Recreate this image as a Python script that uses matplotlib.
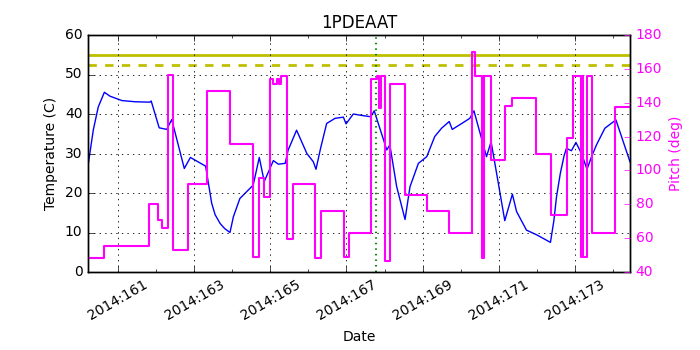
import matplotlib
matplotlib.use("Agg")
import matplotlib.pyplot as plt
from matplotlib.ticker import MultipleLocator, FixedLocator, FuncFormatter

# Day-of-year 2014 (fractional) and temperature (C)
temp_day = [160.22, 160.35, 160.48, 160.64, 160.79, 161.10, 161.45, 161.84, 161.87,
            162.08, 162.28, 162.41, 162.74, 162.90, 163.30, 163.46, 163.55, 163.68,
            163.80, 163.94, 164.03, 164.20, 164.55, 164.71, 164.84, 165.08, 165.21,
            165.39, 165.47, 165.69, 165.96, 166.13, 166.20, 166.32, 166.48, 166.70,
            166.92, 166.99, 167.18, 167.36, 167.64, 167.73, 168.06, 168.14, 168.32,
            168.54, 168.67, 168.89, 169.11, 169.32, 169.50, 169.70, 169.78, 170.03,
            170.24, 170.35, 170.68, 170.80, 170.90, 171.16, 171.36, 171.47, 171.73,
            172.00, 172.36, 172.45, 172.52, 172.62, 172.72, 172.78, 172.91, 173.03,
            173.18, 173.32, 173.44, 173.57, 173.79, 174.08, 174.45]
temp_val = [27.5, 36.0, 41.8, 45.5, 44.5, 43.4, 43.1, 43.0, 43.3,
            36.5, 36.1, 38.6, 26.2, 29.0, 26.8, 17.4, 14.5, 12.3,
            11.0, 10.0, 14.0, 18.6, 22.0, 29.0, 22.9, 28.2, 27.3,
            27.5, 30.9, 35.9, 30.0, 27.9, 26.0, 31.3, 37.6, 38.9,
            39.2, 37.5, 40.0, 39.7, 39.3, 40.8, 30.9, 32.2, 21.6,
            13.3, 21.6, 27.5, 29.2, 34.3, 36.4, 38.1, 36.1, 37.6,
            38.9, 40.8, 29.2, 33.0, 27.5, 13.0, 19.7, 15.3, 10.6,
            9.4, 7.5, 13.0, 19.1, 25.0, 29.5, 31.3, 30.7, 32.8,
            29.9, 26.0, 29.2, 32.2, 36.4, 38.5, 27.9]

# Pitch (deg) step changes: value holds from this day until the next
pitch_day = [160.22, 160.64, 161.81, 162.06, 162.16, 162.31, 162.44, 162.83, 163.33,
             163.94, 164.54, 164.71, 164.83, 164.99, 165.08, 165.17, 165.23, 165.28,
             165.43, 165.60, 166.17, 166.32, 166.93, 167.07, 167.64, 167.79, 167.86,
             167.90, 168.01, 168.14, 168.54, 169.11, 169.70, 170.29, 170.39, 170.55,
             170.62, 170.80, 171.16, 171.36, 171.97, 172.37, 172.80, 172.94, 173.15,
             173.19, 173.21, 173.32, 173.44, 174.05, 174.45]
pitch_val = [48.1, 55.5, 80.2, 70.7, 65.8, 156.4, 53.0, 92.0, 147.0,
             115.4, 48.7, 95.7, 84.1, 153.8, 150.9, 153.8, 150.9, 156.0,
             59.5, 92.0, 48.5, 76.2, 49.0, 63.3, 154.0, 156.0, 136.7,
             156.0, 46.7, 151.0, 85.5, 76.0, 63.1, 169.8, 156.0, 48.1,
             156.0, 106.2, 138.0, 142.6, 109.7, 73.7, 119.0, 155.8, 49.0,
             155.8, 49.0, 155.8, 62.9, 137.6, 137.6]

major_days = [161, 163, 165, 167, 169, 171, 173]
limit_solid = 55.0
limit_dashed = 52.5
event_day = 167.77

plt.style.use('classic')
plt.rcParams['figure.facecolor'] = 'white'
plt.rcParams['font.family'] = ['DejaVu Sans']

fig = plt.figure(figsize=(7, 3.5), dpi=100)
ax1 = fig.add_axes([88/700, 1-272/350, (630-88)/700, (272-35)/350])
ax1.plot(temp_day, temp_val, color='b', lw=1)
ax1.axhline(limit_solid, color='y', lw=2)
ax1.axhline(limit_dashed, color='y', lw=2, ls='--')
ax1.axvline(event_day, color='g', lw=1.5, ls=':')
ax1.set_xlim(160.21, 174.45)
ax1.set_ylim(0, 60)
ax1.yaxis.set_major_locator(MultipleLocator(10))
ax1.xaxis.set_major_locator(FixedLocator(major_days))
ax1.xaxis.set_minor_locator(MultipleLocator(1))
ax1.xaxis.set_major_formatter(FuncFormatter(lambda v, p: "2014:%d" % round(v)))
ax1.grid(True, color='k', ls=':', lw=0.6)
ax1.set_ylabel('Temperature (C)', fontsize=10)
ax1.set_xlabel('Date', fontsize=10)
ax1.set_title('1PDEAAT', fontsize=12)
ax1.tick_params(labelsize=10)
for lab in ax1.get_xticklabels():
    lab.set_rotation(30)

ax2 = ax1.twinx()
ax2.step(pitch_day, pitch_val, where='post', color='#ff00ff', lw=1.5)
ax2.set_ylim(40, 180)
ax2.yaxis.set_major_locator(MultipleLocator(20))
ax2.set_ylabel('Pitch (deg)', color='#ff00ff', fontsize=10)
ax2.tick_params(axis='y', colors='#ff00ff', labelsize=10)
ax2.set_xlim(160.21, 174.45)

fig.savefig('out.png', dpi=100, facecolor='white')
